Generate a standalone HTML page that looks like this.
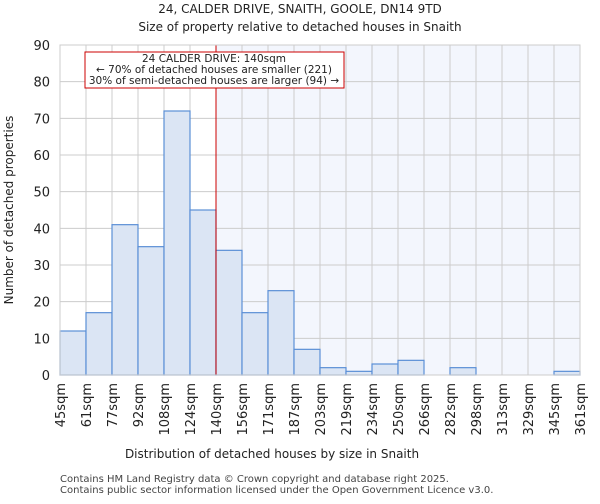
<!DOCTYPE html>
<html><head><meta charset="utf-8"><style>
body{margin:0;background:#fff;font-family:"DejaVu Sans","Liberation Sans",sans-serif;}
</style></head><body>
<svg width="600" height="500" xmlns="http://www.w3.org/2000/svg" font-family="DejaVu Sans, Liberation Sans, sans-serif">
<text x="300" y="13" text-anchor="middle" font-size="12" fill="#222">24, CALDER DRIVE, SNAITH, GOOLE, DN14 9TD</text>
<text x="300" y="31" text-anchor="middle" font-size="12" fill="#222">Size of property relative to detached houses in Snaith</text>
<g id="plot"></g>
<text x="272" y="458" text-anchor="middle" font-size="12" fill="#222">Distribution of detached houses by size in Snaith</text>
<text transform="translate(13,210) rotate(-90)" text-anchor="middle" font-size="12" fill="#222">Number of detached properties</text>
<text x="60" y="482" font-size="10" fill="#444">Contains HM Land Registry data © Crown copyright and database right 2025.</text>
<text x="60" y="493" font-size="10" fill="#444">Contains public sector information licensed under the Open Government Licence v3.0.</text>
</svg>
<script>
const binLabels=["45sqm","61sqm","77sqm","92sqm","108sqm","124sqm","140sqm","156sqm","171sqm","187sqm","203sqm","219sqm","234sqm","250sqm","266sqm","282sqm","298sqm","313sqm","329sqm","345sqm","361sqm"];
const counts=[12,17,41,35,72,45,34,17,23,7,2,1,3,4,0,2,0,0,0,1];
const yTicks=[0,10,20,30,40,50,60,70,80,90];
const markerIndex=6;
const NS="http://www.w3.org/2000/svg";
const g=document.getElementById('plot');
const L=60,R=580,T=45,B=375,yMax=90;
const bw=(R-L)/counts.length;
const xs=i=>L+i*bw;
const ys=v=>B-(v/yMax)*(B-T);
function mk(t,a){const e=document.createElementNS(NS,t);for(const k in a)e.setAttribute(k,a[k]);g.appendChild(e);return e;}
let e=mk('rect',{x:xs(markerIndex),y:T,width:R-xs(markerIndex),height:B-T,fill:'#f3f6fd'});


yTicks.forEach(v=>{
 e=mk('line',{x1:L,x2:R,y1:ys(v),y2:ys(v),stroke:'#ccc','stroke-width':1});
 
 
 e=mk('text',{x:L-10,y:ys(v)+5,'text-anchor':'end','font-size':13,fill:'#222'});e.textContent=v;
 
 
});
binLabels.forEach((lab,i)=>{
 e=mk('line',{x1:xs(i),x2:xs(i),y1:T,y2:B,stroke:'#ccc','stroke-width':1});
 
 
 e=mk('text',{transform:`translate(${xs(i)+5},${B+8}) rotate(-90)`,'text-anchor':'end','font-size':13,fill:'#222'});e.textContent=lab;
 
 
});
counts.forEach((v,i)=>{
 if(v<=0)return;
 e=mk('rect',{x:xs(i),y:ys(v),width:bw,height:B-ys(v),fill:'#dbe5f4',stroke:'#5b8fd6','stroke-width':1.2});
 
 
});
e=mk('line',{x1:xs(markerIndex),x2:xs(markerIndex),y1:T,y2:B,stroke:'#cc0000','stroke-width':1});


e=mk('rect',{x:85,y:52,width:259,height:36,fill:'#fff',stroke:'#cc0000','stroke-width':1});


["24 CALDER DRIVE: 140sqm","← 70% of detached houses are smaller (221)","30% of semi-detached houses are larger (94) →"].forEach((t,k)=>{
 e=mk('text',{x:214,y:62+k*11,'text-anchor':'middle','font-size':10.5,fill:'#222'});e.textContent=t;
 
 
});
e=mk('rect',{x:L,y:T,width:R-L,height:B-T,fill:'none',stroke:'#ccc','stroke-width':1});


</script>
</body></html>
